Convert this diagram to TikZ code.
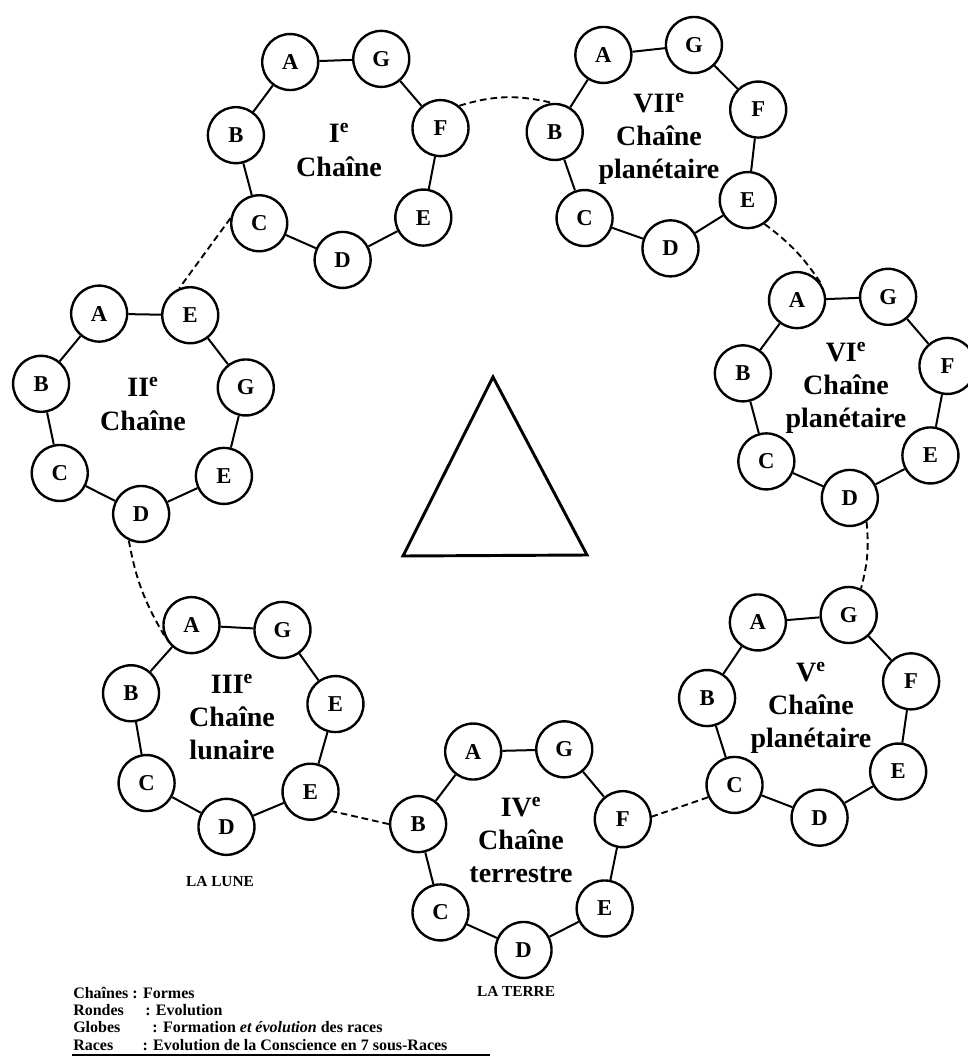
\documentclass[tikz,border=0pt]{standalone}
\usepackage{fontspec}
\setmainfont{Liberation Serif}

\tikzset{
  globe/.style={circle, draw, line width=1.8pt, minimum size=42pt, inner sep=0pt,
    fill=white, font=\fontsize{17}{17}\selectfont\bfseries},
  ring/.style={line width=1.5pt},
  link/.style={line width=1.4pt, dash pattern=on 5pt off 3pt},
  chainlbl/.style={align=center, font=\fontsize{21}{25}\selectfont\bfseries},
  place/.style={font=\fontsize{11.5}{12}\selectfont\bfseries},
  legend/.style={anchor=west, inner sep=0pt, font=\fontsize{12}{13}\selectfont\bfseries},
}

\begin{document}
\begin{tikzpicture}[x=0.75pt, y=-0.75pt]
  \useasboundingbox (0,0) rectangle (967,1059);

  % seven chains, seven globes each
  \foreach \ch/\cx/\cy/\rot/\letters/\lbl in {
      1/339/155/2/{A,G,F,E,D,C,B}/{I\textsuperscript{e}\\Chaîne},
      2/143/409/-1/{A,E,G,E,D,C,B}/{II\textsuperscript{e}\\Chaîne},
      3/232/722/-3/{A,G,E,E,D,C,B}/{III\textsuperscript{e}\\Chaîne\\lunaire},
      4/521/845/1.4/{A,G,F,E,D,C,B}/{IV\textsuperscript{e}\\Chaîne\\terrestre},
      5/811/713/4.7/{A,G,F,E,D,C,B}/{V\textsuperscript{e}\\Chaîne\\planétaire},
      6/846/393/2.1/{A,G,F,E,D,C,B}/{VI\textsuperscript{e}\\Chaîne\\planétaire},
      7/659/144/6.3/{A,G,F,E,D,C,B}/{VII\textsuperscript{e}\\Chaîne\\planétaire}}{
    \foreach \l [count=\k] in \letters {
      \pgfmathsetmacro\ang{115.7-(\k-1)*51.43+\rot}
      \node[globe] (c\ch-\k) at ({\cx+105*cos(\ang)},{\cy-105*sin(\ang)}) {\l};
    }
    \foreach \k in {1,...,7}{
      \pgfmathtruncatemacro\nk{mod(\k,7)+1}
      \draw[ring] (c\ch-\k) -- (c\ch-\nk);
    }
    \node[chainlbl] (c\ch-lbl) at (\cx,\cy-5) {\lbl};
  }

  % dashed links between chains
  \draw[link] (c1-6.170) -- (c2-2.112);
  \draw[link] (c1-3.50) to[bend left=15] (c7-7.95);
  \draw[link] (c7-4.305) to[bend left=10] (c6-1.30);
  \draw[link] (c6-5.305) to[bend left=10] (c5-2.65);
  \draw[link] (c5-6.205) -- (c4-3.5);
  \draw[link] (c4-7.180) -- (c3-4.318);
  \draw[link] (c2-5.245) to[bend right=10] (c3-1.200);

  % triangle
  \draw[line width=2.2pt] (493,377) -- (587,555) -- (403,556) -- cycle;

  \node[place] (lune) at (220,881) {LA LUNE};
  \node[place] (terre) at (516,991) {LA TERRE};

  % legend
  \node[legend] (leg1) at (73,993) {Chaînes : Formes};
  \node[legend] (leg2) at (73,1010) {Rondes\hspace{16pt}: Evolution};
  \node[legend] (leg3) at (73,1027) {Globes\hspace{24pt}: Formation \textit{et évolution} des races};
  \node[legend] (leg4) at (73,1045) {Races\hspace{22pt}: Evolution de la Conscience en 7 sous-Races};
  \draw[line width=1pt] (72,1055) -- (490,1055);
\end{tikzpicture}
\end{document}
